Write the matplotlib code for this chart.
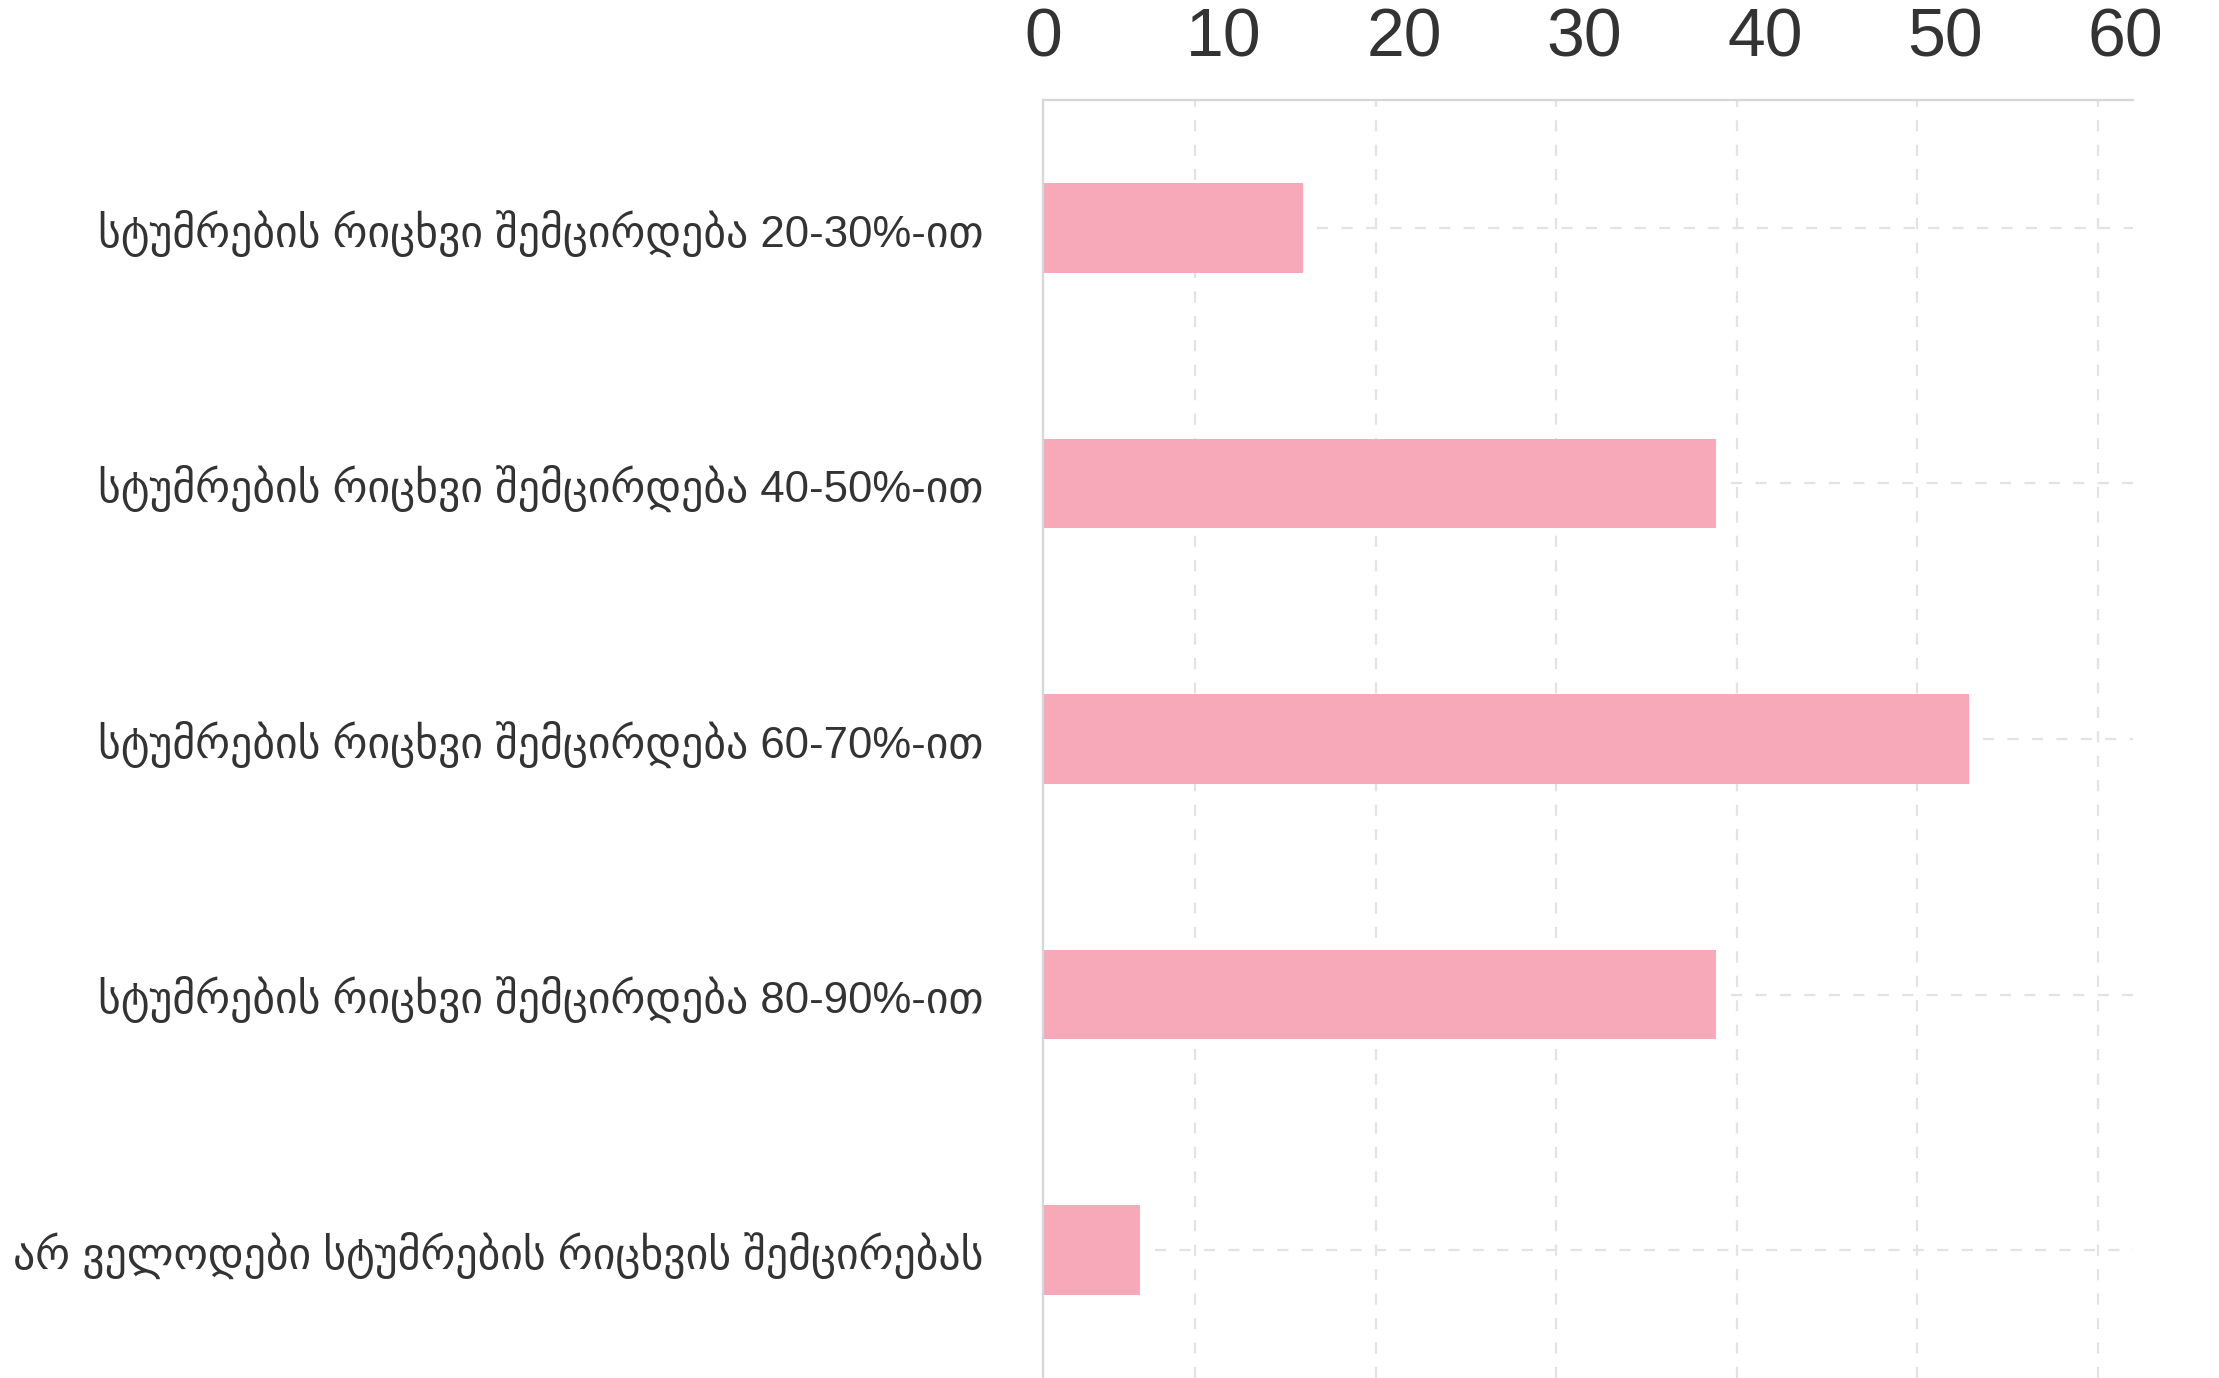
import matplotlib
matplotlib.use("Agg")
import matplotlib.pyplot as plt

categories = [
    "სტუმრების რიცხვი შემცირდება 20-30%-ით",
    "სტუმრების რიცხვი შემცირდება 40-50%-ით",
    "სტუმრების რიცხვი შემცირდება 60-70%-ით",
    "სტუმრების რიცხვი შემცირდება 80-90%-ით",
    "არ ველოდები სტუმრების რიცხვის შემცირებას",
]
values = [14.4, 37.3, 51.3, 37.3, 5.4]
xticks = [0, 10, 20, 30, 40, 50, 60]

BAR = "#F7A9BA"
GRID = "#E3E3E3"
TEXT = "#333333"

fig = plt.figure(figsize=(22.19, 13.78), dpi=100)
ax = fig.add_axes([1043 / 2219, 0, 1090 / 2219, (1378 - 100) / 1378])

y = list(range(len(categories)))
ax.barh(y, values, height=0.35, color=BAR, zorder=2)

xmax = 60.4
ax.set_xlim(0, xmax)
ax.set_ylim(len(categories) - 0.5, -0.5)

# vertical grid lines (drawn slightly left of the tick label centres, as in the reference)
grid_offset = 1.55
for t in xticks:
    gx = t - grid_offset
    if gx > 0:
        ax.axvline(gx, color=GRID, lw=1.6, ls=(0, (5, 6)), zorder=1)

# horizontal dashed guide lines through bar centres
for yi, v in zip(y, values):
    ax.plot([v + 0.8, xmax], [yi, yi], color=GRID, lw=1.6, ls=(0, (5, 6)), zorder=1)

ax.xaxis.tick_top()
ax.set_xticks(xticks)
ax.set_xticklabels([str(t) for t in xticks], family=["Liberation Sans", "DejaVu Sans"],
                   fontsize=49, color=TEXT)
ax.tick_params(axis="x", length=0, pad=21)

ax.set_yticks(y)
ax.set_yticklabels(categories, family=["Liberation Sans", "DejaVu Sans"], fontsize=31.5, color=TEXT)
ax.tick_params(axis="y", length=0, pad=43)
for lab in ax.get_yticklabels():
    lab.set_y(lab.get_position()[1])

for s in ["right", "bottom"]:
    ax.spines[s].set_visible(False)
ax.spines["left"].set_color("#D6D6D6")
ax.spines["left"].set_linewidth(1.6)
ax.spines["top"].set_color("#D6D6D6")
ax.spines["top"].set_linewidth(1.6)

fig.savefig("out.png", dpi=100, facecolor="white")
